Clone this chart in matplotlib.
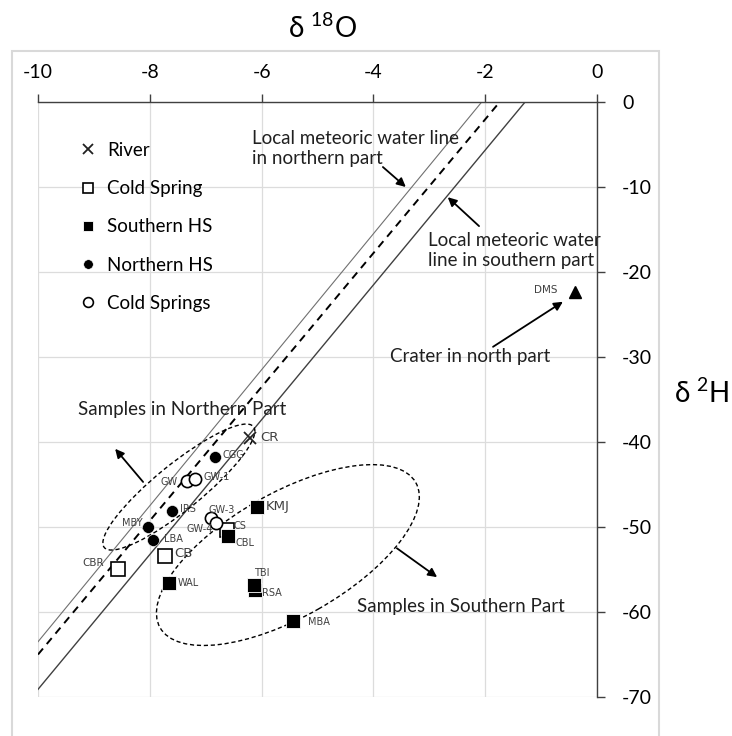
import numpy as np
import matplotlib
matplotlib.use("Agg")
import matplotlib.pyplot as plt
from matplotlib.patches import Ellipse, Rectangle
from matplotlib.transforms import ScaledTranslation

plt.rcParams['font.family'] = ['Lato', 'DejaVu Sans']
plt.rcParams['mathtext.fontset'] = 'custom'
plt.rcParams['mathtext.rm'] = 'Lato'

# ---------------- data ----------------
river_names = ["CR"]
river_x = [-6.2]
river_y = [-39.5]

coldspring_names = ["CBR", "CB", "CS"]
coldspring_x = [-8.56, -7.73, -6.62]
coldspring_y = [-54.9, -53.4, -50.4]

southern_names = ["KMJ", "CBL", "WAL", "RSA", "TBI", "MBA"]
southern_x = [-6.09, -6.60, -7.65, -6.11, -6.14, -5.44]
southern_y = [-47.6, -51.0, -56.6, -57.4, -56.8, -61.1]

northern_names = ["CGG", "IRS", "MBY", "LBA"]
northern_x = [-6.83, -7.60, -8.03, -7.94]
northern_y = [-41.8, -48.1, -50.0, -51.5]

coldsprings_names = ["GW", "GW-1", "GW-3", "GW-4"]
coldsprings_x = [-7.34, -7.20, -6.91, -6.82]
coldsprings_y = [-44.6, -44.4, -48.9, -49.5]

crater_names = ["DMS"]
crater_x = [-0.40]
crater_y = [-22.3]

# meteoric water lines: slope, intercept
lmwl_north = (8.0, 16.5)
lmwl_mid = (7.87, 13.7)
lmwl_south = (7.93, 10.2)

x_ticks = [-10, -8, -6, -4, -2, 0]
y_ticks = [0, -10, -20, -30, -40, -50, -60, -70]

# ---------------- figure ----------------
W, H = 732, 736
fig = plt.figure(figsize=(W / 100, H / 100), dpi=100)
ax = fig.add_axes([38 / W, 1 - 697 / H, 559 / W, 595 / H])
ax.set_xlim(-10, 0)
ax.set_ylim(-70, 0)

# outer chart border
fig.patches.append(Rectangle((12 / W, -0.02), (659 - 12) / W, (736 - 51) / H + 0.02,
                             transform=fig.transFigure, fill=False,
                             edgecolor='#d9d9d9', lw=1.5, clip_on=False))

ax.set_xticks(x_ticks)
ax.set_yticks(y_ticks)
ax.xaxis.tick_top()
ax.yaxis.tick_right()
ax.grid(True, color='#dcdcdc', lw=0.9, zorder=0)
ax.set_axisbelow(True)
for s in ['left', 'bottom']:
    ax.spines[s].set_visible(False)
for s in ['top', 'right']:
    ax.spines[s].set_color('#404040')
    ax.spines[s].set_linewidth(1.0)
ax.tick_params(axis='x', direction='out', length=6, width=1.0, color='#404040',
               labelsize=14, pad=9)
ax.tick_params(axis='y', direction='out', length=6, width=1.0, color='#404040',
               labelsize=14, pad=12)
ax.set_xticklabels([str(t) for t in x_ticks])
ax.set_yticklabels([str(t) for t in y_ticks])

# titles
fig.text(322 / W, 1 - 28 / H, r"δ $^{18}$O", ha='center', va='center', fontsize=20)
fig.text(702 / W, 1 - 393 / H, r"δ $^{2}$H", ha='center', va='center', fontsize=20)

# meteoric water lines
for (m, b), kw in [(lmwl_north, dict(color='#707070', lw=0.8)),
                   (lmwl_mid, dict(color='black', lw=1.4, ls=(0, (4, 3)))),
                   (lmwl_south, dict(color='#404040', lw=1.0))]:
    xs = np.array([-10, -b / m])
    ax.plot(xs, m * xs + b, zorder=2, **kw)

# ellipses (centre in data, size in inches)
def add_ellipse(cx, cy, w_in, h_in, angle):
    tr = fig.dpi_scale_trans + ScaledTranslation(cx, cy, ax.transData)
    e = Ellipse((0, 0), w_in, h_in, angle=angle, transform=tr, fill=False,
                edgecolor='black', lw=1.0, ls=(0, (3, 2)), zorder=2)
    ax.add_patch(e)

add_ellipse(-7.48, -45.3, 1.92, 0.46, 39)
add_ellipse(-5.53, -53.3, 2.94, 1.24, 29.6)

# series
h_river, = ax.plot(river_x, river_y, ls='none', marker='x', ms=8.6, mew=1.3,
                   color='#202020', label='River', zorder=4)
h_cs, = ax.plot(coldspring_x, coldspring_y, ls='none', marker='s', ms=9.4, mew=1.2,
                mfc='white', mec='black', label='Cold Spring', zorder=4)
h_south, = ax.plot(southern_x, southern_y, ls='none', marker='s', ms=9.4, mew=0.6,
                   mfc='black', mec='white', label='Southern HS', zorder=5)
h_north, = ax.plot(northern_x, northern_y, ls='none', marker='o', ms=8.6, mew=0.4,
                   mfc='black', mec='white', label='Northern HS', zorder=5)
h_css, = ax.plot(coldsprings_x, coldsprings_y, ls='none', marker='o', ms=8.8, mew=1.2,
                 mfc='white', mec='black', label='Cold Springs', zorder=4)
ax.plot(crater_x, crater_y, ls='none', marker='^', ms=8.0, color='black', zorder=5)

leg = ax.legend(handles=[h_river, h_cs, h_south, h_north, h_css],
                loc='upper left', bbox_to_anchor=((79 - 38) / 559, 1 - (142 - 102) / 595),
                frameon=False, fontsize=13.5, markerscale=0.8, handlelength=1.0,
                handletextpad=0.5, labelspacing=1.13, borderpad=0, borderaxespad=0)

# point labels
lab_color = '#404040'
def lab(names, xs, ys, offsets, sizes=None):
    for i, (n, x, y) in enumerate(zip(names, xs, ys)):
        dx, dy, ha = offsets[i]
        sz = 7 if sizes is None else sizes[i]
        ax.annotate(n, (x, y), xytext=(dx * 0.72, -dy * 0.72), textcoords='offset points',
                    ha=ha, va='center', fontsize=sz, color=lab_color,
                    family='DejaVu Sans', zorder=6)

lab(river_names, river_x, river_y, [(10, 0, 'left')], [9.5])
lab(coldspring_names, coldspring_x, coldspring_y,
    [(-14, -6, 'right'), (9, -2, 'left'), (7, -4, 'left')], [7.5, 9.5, 7])
lab(southern_names, southern_x, southern_y,
    [(9, 0, 'left'), (7, 7, 'left'), (8, 0, 'left'), (7, 3, 'left'), (0, -12, 'left'),
     (15, 1, 'left')], [9.5, 7, 7, 7, 7, 7])
lab(northern_names, northern_x, northern_y,
    [(7, -2, 'left'), (8, -2, 'left'), (-5, -4, 'right'), (11, -1, 'left')])
lab(coldsprings_names, coldsprings_x, coldsprings_y,
    [(-9, 1, 'right'), (9, -2, 'left'), (-2, -8, 'left'), (-3, 6, 'right')])
lab(crater_names, crater_x, crater_y, [(-17, -2, 'right')], [7.5])

# annotations
txt_kw = dict(fontsize=13.5, color='#202020', va='center', ha='left', linespacing=1.2)
ax.text(-6.17, -5.5, "Local meteoric water line\nin northern part", **txt_kw)
ax.text(-3.02, -17.5, "Local meteoric water\nline in southern part", **txt_kw)
ax.text(-3.70, -29.9, "Crater in north part", **txt_kw)
ax.text(-9.28, -36.2, "Samples in Northern Part", **txt_kw)
ax.text(-4.29, -59.4, "Samples in Southern Part", **txt_kw)

arrow_kw = dict(arrowstyle='-|>', color='black', lw=1.3, mutation_scale=13,
                shrinkA=0, shrinkB=0)
for tail, head in [((-3.83, -7.65), (-3.42, -10.0)),
                   ((-2.11, -14.6), (-2.67, -11.2)),
                   ((-1.86, -28.8), (-0.61, -23.5)),
                   ((-8.12, -44.7), (-8.62, -40.8)),
                   ((-3.58, -52.5), (-2.86, -55.9))]:
    ax.annotate("", xy=head, xytext=tail, arrowprops=arrow_kw, zorder=6)

fig.savefig("out.png", dpi=100)
